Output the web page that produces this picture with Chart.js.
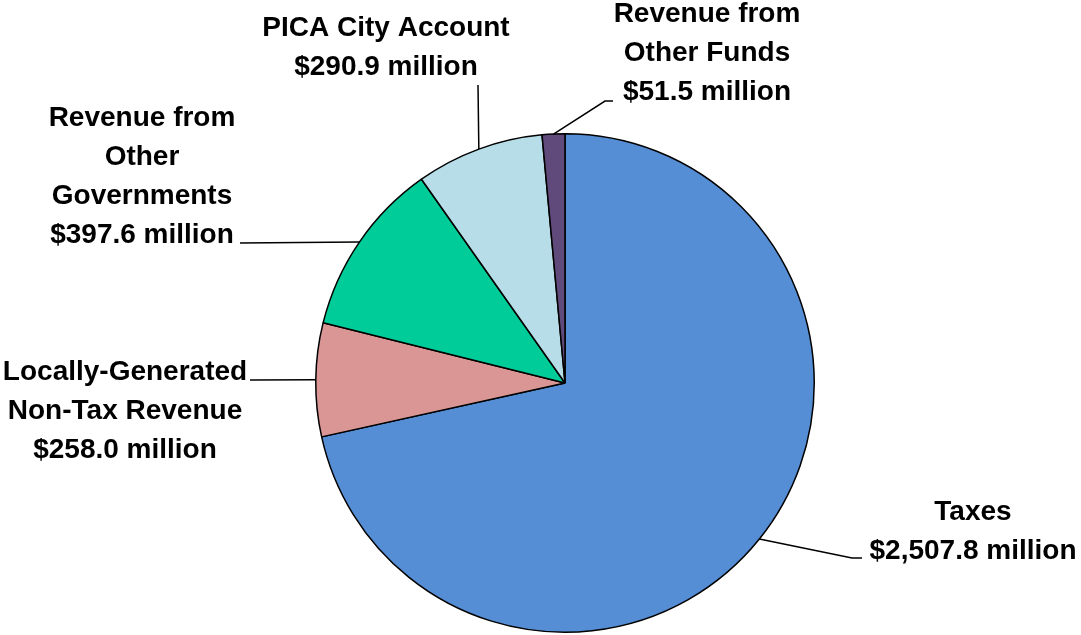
<!DOCTYPE html>
<html>
<head>
<meta charset="utf-8">
<script src="https://cdn.jsdelivr.net/npm/chart.js@4/dist/chart.umd.min.js"></script>
<style>
  html, body { margin: 0; padding: 0; background: #ffffff; }
  #wrap { width: 1081px; height: 635px; }
</style>
</head>
<body>
<div id="wrap"><canvas id="myChartRevenue"></canvas></div>
<script>
//? Data du graphique.

const categories = [
  "Taxes",
  "Locally-Generated Non-Tax Revenue",
  "Revenue from Other Governments",
  "PICA City Account",
  "Revenue from Other Funds",
];

// libellés découpés en lignes comme sur l'original
const categoryLines = [
  ["Taxes"],
  ["Locally-Generated", "Non-Tax Revenue"],
  ["Revenue from", "Other", "Governments"],
  ["PICA City Account"],
  ["Revenue from", "Other Funds"],
];

const valeursMillions = [2507.8, 258.0, 397.6, 290.9, 51.5];

const couleurs = ["#558ED5", "#D99694", "#00CC99", "#B7DEE8", "#604A7B"];

//? -------------------------------------------------

//? Placement des étiquettes (coude de la ligne de rappel + texte).

const placementEtiquettes = [
  { path: [[852, 558], [862, 558]], x: 973, y: 512 },
  { path: [[250, 380]], x: 125, y: 372 },
  { path: [[240, 243]], x: 142, y: 118 },
  { path: [[478, 85]], x: 386, y: 28 },
  { path: [[605, 101], [613, 101]], x: 707, y: 14 },
];

const interligne = 39;

const formatMillions = (v) =>
  "$" +
  v.toLocaleString("en-US", { minimumFractionDigits: 1, maximumFractionDigits: 1 }) +
  " million";

const pluginEtiquettes = {
  id: "etiquettes",
  afterDatasetsDraw(chart) {
    const ctx = chart.ctx;
    const meta = chart.getDatasetMeta(0);
    ctx.save();
    meta.data.forEach((arc, i) => {
      const p = arc.getProps(["x", "y", "startAngle", "endAngle", "outerRadius"], true);
      const mid = (p.startAngle + p.endAngle) / 2;
      const ax = p.x + Math.cos(mid) * p.outerRadius;
      const ay = p.y + Math.sin(mid) * p.outerRadius;
      const pl = placementEtiquettes[i];

      ctx.strokeStyle = "#000000";
      ctx.lineWidth = 1.5;
      ctx.beginPath();
      ctx.moveTo(ax, ay);
      pl.path.forEach(([px, py]) => ctx.lineTo(px, py));
      ctx.stroke();

      const lines = [...categoryLines[i], formatMillions(valeursMillions[i])];
      ctx.fillStyle = "#000000";
      ctx.font = "bold 28px 'Liberation Sans', Arial, sans-serif";
      ctx.textAlign = "center";
      ctx.textBaseline = "middle";
      lines.forEach((t, k) => ctx.fillText(t, pl.x, pl.y + k * interligne));
    });
    ctx.restore();
  },
};

//? -------------------------------------------------

//? Construction du graphique.

const constructionDuGraphique = () => {
  try {
    const ctx = document.getElementById("myChartRevenue").getContext("2d");

    new Chart(ctx, {
      type: "pie",
      data: {
        labels: categories,
        datasets: [
          {
            data: valeursMillions,
            backgroundColor: couleurs,
            borderColor: "#000000",
            borderWidth: 1.5,
          },
        ],
      },
      options: {
        responsive: true,
        maintainAspectRatio: false,
        animation: false,
        layout: {
          padding: { left: 315, right: 266, top: 133, bottom: 2 },
        },
        plugins: {
          legend: { display: false },
          tooltip: { enabled: false },
        },
      },
      plugins: [pluginEtiquettes],
    });
  } catch (error) {
    console.log("🔴 ERREUR | Construction graphique :", error);
  }
};

constructionDuGraphique();
</script>
</body>
</html>
